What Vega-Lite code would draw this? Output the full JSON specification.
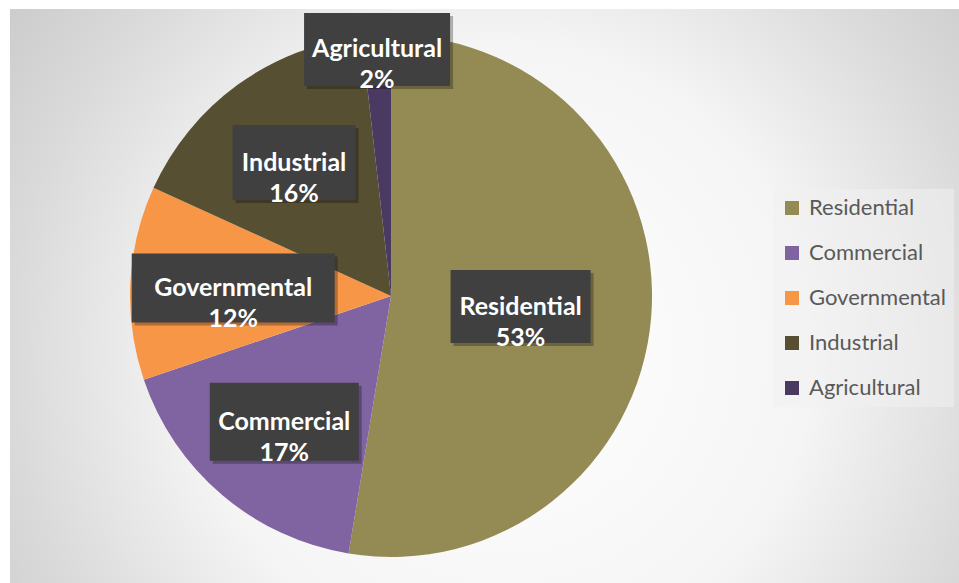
{
  "$schema": "https://vega.github.io/schema/vega-lite/v6.json",
  "width": 949,
  "height": 574,
  "autosize": {"type": "none"},
  "padding": {"left": 10, "top": 9, "right": 0, "bottom": 0},
  "background": "#ffffff",
  "view": {
    "stroke": null,
    "fill": {
      "gradient": "radial",
      "x1": 0.52, "y1": 0.56, "r1": 0,
      "x2": 0.52, "y2": 0.56, "r2": 0.72,
      "stops": [
        {"offset": 0, "color": "#ffffff"},
        {"offset": 0.45, "color": "#f5f5f5"},
        {"offset": 0.72, "color": "#dadada"},
        {"offset": 1, "color": "#c2c2c2"}
      ]
    }
  },
  "data": {
    "values": [
      {"category": "Residential", "value": 52.6, "label": "Residential\n53%"},
      {"category": "Commercial", "value": 17.2, "label": "Commercial\n17%"},
      {"category": "Governmental", "value": 12.0, "label": "Governmental\n12%"},
      {"category": "Industrial", "value": 16.4, "label": "Industrial\n16%"},
      {"category": "Agricultural", "value": 1.8, "label": "Agricultural\n2%"}
    ]
  },
  "transform": [{"window": [{"op": "row_number", "as": "idx"}]}],
  "layer": [
    {
      "mark": {"type": "arc", "outerRadius": 261, "x": {"expr": "width * 0.4015"}},
      "encoding": {
        "theta": {"field": "value", "type": "quantitative", "stack": true},
        "order": {"field": "idx", "type": "quantitative"},
        "color": {
          "field": "category",
          "type": "nominal",
          "scale": {
            "domain": ["Residential", "Commercial", "Governmental", "Industrial", "Agricultural"],
            "range": ["#948a54", "#8064a2", "#f79646", "#574f32", "#4a3a62"]
          },
          "legend": {
            "orient": "none",
            "legendX": 763,
            "legendY": 180,
            "title": null,
            "symbolType": "square",
            "symbolSize": 196,
            "symbolStrokeWidth": 0,
            "labelFont": "Lato",
            "labelFontSize": 22,
            "labelColor": "#595959",
            "labelOffset": 6,
            "rowPadding": 23,
            "padding": 8,
            "fillColor": "rgba(240,240,240,0.55)"
          }
        }
      }
    },
    {
      "transform": [
        {"stack": "value", "groupby": [], "sort": [{"field": "idx", "order": "ascending"}], "offset": "normalize", "as": ["v0", "v1"]}
      ],
      "mark": {"type": "point", "filled": true, "size": 40000, "opacity": 0.28, "color": "#000000", "strokeWidth": 0},
      "encoding": {
        "x": {"value": {"expr": "width * 0.4015 + 3 + (datum.category === 'Residential' ? 130 : datum.category === 'Agricultural' ? 247 : datum.category === 'Governmental' ? 158 : 165) * sin(PI * (datum.v0 + datum.v1))"}},
        "y": {"value": {"expr": "height / 2 + 3 - (datum.category === 'Residential' ? 130 : datum.category === 'Agricultural' ? 247 : datum.category === 'Governmental' ? 158 : 165) * cos(PI * (datum.v0 + datum.v1))"}},
        "shape": {
          "field": "label",
          "type": "nominal",
          "scale": {
            "domain": ["Residential\n53%", "Commercial\n17%", "Governmental\n12%", "Industrial\n16%", "Agricultural\n2%"],
            "range": [
              "M-0.7,-0.365H0.7V0.365H-0.7Z",
              "M-0.745,-0.39H0.745V0.39H-0.745Z",
              "M-1.015,-0.345H1.015V0.345H-1.015Z",
              "M-0.615,-0.375H0.615V0.375H-0.615Z",
              "M-0.73,-0.365H0.73V0.365H-0.73Z"
            ]
          },
          "legend": null
        }
      }
    },
    {
      "transform": [
        {"stack": "value", "groupby": [], "sort": [{"field": "idx", "order": "ascending"}], "offset": "normalize", "as": ["v0", "v1"]}
      ],
      "mark": {"type": "point", "filled": true, "size": 40000, "opacity": 1, "color": "#404040", "strokeWidth": 0},
      "encoding": {
        "x": {"value": {"expr": "width * 0.4015 + (datum.category === 'Residential' ? 130 : datum.category === 'Agricultural' ? 247 : datum.category === 'Governmental' ? 158 : 165) * sin(PI * (datum.v0 + datum.v1))"}},
        "y": {"value": {"expr": "height / 2 - (datum.category === 'Residential' ? 130 : datum.category === 'Agricultural' ? 247 : datum.category === 'Governmental' ? 158 : 165) * cos(PI * (datum.v0 + datum.v1))"}},
        "shape": {
          "field": "label",
          "type": "nominal",
          "scale": {
            "domain": ["Residential\n53%", "Commercial\n17%", "Governmental\n12%", "Industrial\n16%", "Agricultural\n2%"],
            "range": [
              "M-0.7,-0.365H0.7V0.365H-0.7Z",
              "M-0.745,-0.39H0.745V0.39H-0.745Z",
              "M-1.015,-0.345H1.015V0.345H-1.015Z",
              "M-0.615,-0.375H0.615V0.375H-0.615Z",
              "M-0.73,-0.365H0.73V0.365H-0.73Z"
            ]
          },
          "legend": null
        }
      }
    },
    {
      "mark": {
        "type": "text",
        "x": {"expr": "width * 0.4015"},
        "radius": {"expr": "datum.category === 'Residential' ? 130 : datum.category === 'Agricultural' ? 247 : datum.category === 'Governmental' ? 158 : 165"},
        "font": "Lato",
        "fontWeight": "bold",
        "fontSize": 25,
        "lineBreak": "\n",
        "lineHeight": 31,
        "baseline": "middle",
        "align": "center",
        "color": "#ffffff"
      },
      "encoding": {
        "theta": {"field": "value", "type": "quantitative", "stack": true},
        "order": {"field": "idx", "type": "quantitative"},
        "text": {"field": "label", "type": "nominal"}
      }
    }
  ]
}
